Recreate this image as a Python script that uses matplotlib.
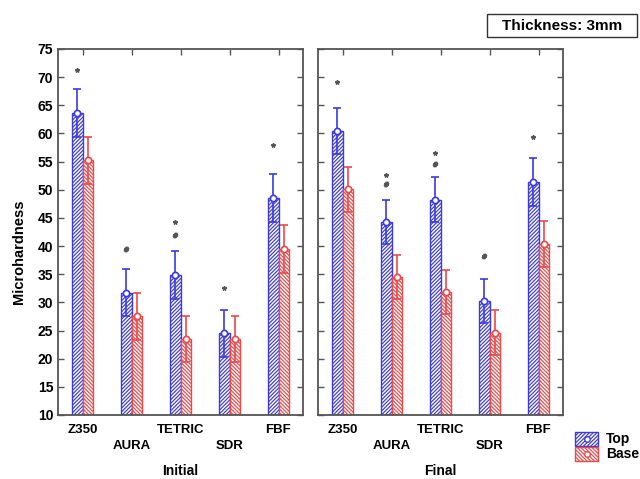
import matplotlib
matplotlib.use("Agg")
import matplotlib.pyplot as plt
import numpy as np
from matplotlib.patches import Rectangle
from matplotlib.lines import Line2D

cats = ['Z350', 'AURA', 'TETRIC', 'SDR', 'FBF']
initial_top = [63.6, 31.7, 34.9, 24.5, 48.5]
initial_top_err = [4.3, 4.2, 4.3, 4.2, 4.3]
initial_base = [55.2, 27.5, 23.5, 23.5, 39.5]
initial_base_err = [4.1, 4.1, 4.1, 4.1, 4.3]
final_top = [60.5, 44.2, 48.2, 30.2, 51.4]
final_top_err = [4.1, 3.9, 4.0, 3.9, 4.2]
final_base = [50.1, 34.5, 31.9, 24.6, 40.4]
final_base_err = [4.0, 3.9, 3.9, 4.0, 4.1]
initial_marks = [(0, 71.3, '*'), (1, 39.5, '#'), (2, 44.2, '*'), (2, 42.0, '#'),
                 (3, 32.5, '*'), (4, 57.9, '*')]
final_marks = [(0, 69.2, '*'), (1, 52.6, '*'), (1, 51.0, '#'), (2, 56.5, '*'),
               (2, 54.6, '#'), (3, 38.3, '#'), (4, 59.4, '*')]
panel_titles = ['Initial', 'Final']
yticks = list(range(10, 80, 5))

plt.rcParams['font.family'] = ['Liberation Sans', 'DejaVu Sans']
plt.rcParams['hatch.linewidth'] = 0.85

BLUE = '#3a3ae0'
RED = '#ec4848'
W = 0.21
HB = '/' * 9
HR = '\\' * 9

fig = plt.figure(figsize=(6.4, 4.79), dpi=100)
ax1 = fig.add_axes([58/640, 1-415/479, 245/640, 366/479])
ax2 = fig.add_axes([318/640, 1-415/479, 245/640, 366/479])

x = np.arange(len(cats))

def draw(ax, top, top_err, base, base_err, marks, title, show_y):
    ax.bar(x - W/2, np.array(top) - 10, W, bottom=10, facecolor='white',
           edgecolor=BLUE, hatch=HB, linewidth=1.0, zorder=2)
    ax.bar(x + W/2, np.array(base) - 10, W, bottom=10, facecolor='white',
           edgecolor=RED, hatch=HR, linewidth=1.0, zorder=2)
    ax.errorbar(x - W/2, top, yerr=top_err, fmt='none', ecolor=BLUE,
                elinewidth=1.2, capsize=3, capthick=1.2, zorder=3)
    ax.errorbar(x + W/2, base, yerr=base_err, fmt='none', ecolor=RED,
                elinewidth=1.2, capsize=3, capthick=1.2, zorder=3)
    ax.plot(x - W/2, top, 'o', ms=4.5, mfc='white', mec=BLUE, mew=1.2, zorder=4)
    ax.plot(x + W/2, base, 'o', ms=4.5, mfc='white', mec=RED, mew=1.2, zorder=4)
    for i, yv, s in marks:
        if s == '*':
            ax.plot(i - W/2, yv, marker='*', ms=3.2, color='#555555', zorder=5)
        else:
            ax.plot(i - W/2, yv, marker='$\\#$', ms=3.2, color='#555555', zorder=5)
    ax.set_xlim(-0.5, 4.5)
    ax.set_ylim(10, 75)
    ax.set_yticks(yticks)
    ax.set_xticks(x)
    ax.set_xticklabels([])
    ax.tick_params(direction='in', length=4, width=1, top=True, right=True,
                   colors='#555555', labelcolor='black')
    if show_y:
        ax.set_yticklabels([str(v) for v in yticks], fontsize=10, fontweight='bold')
    else:
        ax.set_yticklabels([])
    for sp in ax.spines.values():
        sp.set_color('#555555')
        sp.set_linewidth(1.3)
    for i, c in enumerate(cats):
        dy = -15 if i % 2 == 0 else -31
        ax.annotate(c, (i, 10), xytext=(0, dy), textcoords='offset pixels',
                    ha='center', va='center', fontsize=9.5, fontweight='bold',
                    annotation_clip=False)
    pos = ax.get_position()
    fig.text((pos.x0 + pos.x1) / 2, 1 - 471/479, title,
             ha='center', va='center', fontsize=10, fontweight='bold')

draw(ax1, initial_top, initial_top_err, initial_base, initial_base_err,
     initial_marks, panel_titles[0], True)
draw(ax2, final_top, final_top_err, final_base, final_base_err,
     final_marks, panel_titles[1], False)

fig.text(19/640, 1 - 252/479, 'Microhardness', rotation=90, ha='center',
         va='center', fontsize=10.5, fontweight='bold')

# legend
for (y0, col, hatch, lab) in [(432, BLUE, HB, 'Top'),
                              (447, RED, HR, 'Base')]:
    r = Rectangle((575/640, 1 - (y0 + 14)/479), 23/640, 14/479,
                  transform=fig.transFigure, facecolor='white', edgecolor=col,
                  hatch=hatch, linewidth=1.0)
    fig.add_artist(r)
    fig.add_artist(Line2D([586.5/640], [1 - (y0 + 7)/479], marker='o', ms=4,
                          mfc='white', mec=col, mew=1.0, transform=fig.transFigure))
    fig.text(606/640, 1 - (y0 + 7)/479, lab, ha='left', va='center',
             fontsize=10, fontweight='bold')

# title box
fig.add_artist(Rectangle((487/640, 1 - 37/479), 150/640, 23/479,
                         transform=fig.transFigure, facecolor='white',
                         edgecolor='#333333', linewidth=1.0))
fig.text(562/640, 1 - 26/479, 'Thickness: 3mm', ha='center', va='center',
         fontsize=11, fontweight='bold')

fig.savefig('out.png', dpi=100)
